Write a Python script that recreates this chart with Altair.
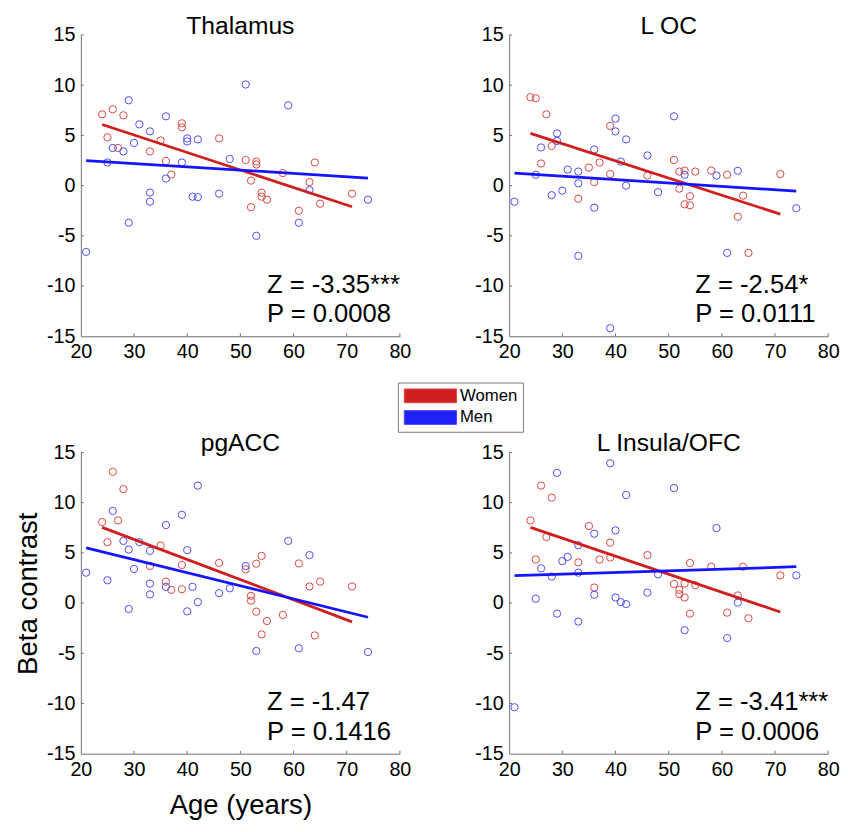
import altair as alt
import pandas as pd

FONT = "Liberation Sans"
SEXES = ["Women", "Men"]
POINT_COLORS = ["#dc4646", "#4c4cff"]
LINE_COLORS = ["#d01e1e", "#1414ff"]
LEGEND_COLORS = ["#cf2020", "#2020f8"]
X_TICKS = [20, 30, 40, 50, 60, 70, 80]
Y_TICKS = [-15, -10, -5, 0, 5, 10, 15]

# ---- Thalamus ----
thal_women = [(24, 7.1), (26, 7.6), (28, 7.0), (25, 4.8), (27, 3.75), (35, 4.5), (33, 3.4),
              (39, 6.2), (39, 5.8), (36, 2.45), (37, 1.1), (46, 4.7), (51, 2.55), (53, 2.4),
              (53, 2.1), (52, 0.5), (58, 1.25), (64, 2.3), (63, 0.35), (54, -0.7), (54, -1.1),
              (55, -1.4), (52, -2.15), (61, -2.5), (65, -1.8), (71, -0.8)]
thal_men = [(21, -6.6), (25, 2.3), (26, 3.75), (28, 3.4), (29, 8.5), (29, -3.7), (30, 4.25),
            (31, 6.1), (33, 5.4), (33, -0.7), (33, -1.6), (36, 6.9), (36, 0.7), (39, 2.3),
            (40, 4.7), (40, 4.4), (42, 4.6), (41, -1.1), (42, -1.15), (46, -0.8), (48, 2.65),
            (51, 10.07), (59, 8.0), (63, -0.45), (61, -3.7), (53, -5.0), (74, -1.4)]
thal_fit_women = [(24, 6.08), (71, -2.1)]
thal_fit_men = [(21, 2.5), (74, 0.75)]

# ---- L OC ----
loc_women = [(24, 8.8), (25, 8.7), (27, 7.1), (28, 3.95), (26, 2.2), (39, 5.95), (35, 1.8),
             (37, 2.3), (36, 0.35), (39, 1.15), (33, -1.3), (46, 1.0), (51, 2.55), (52, 1.4),
             (53, 1.5), (55, 1.4), (58, 1.5), (61, 1.08), (71, 1.15), (52, -0.3), (54, -1.05),
             (53, -1.86), (54, -1.96), (64, -1.0), (63, -3.1), (65, -6.7)]
loc_men = [(21, -1.6), (25, 1.08), (26, 3.8), (29, 5.2), (29, 4.45), (28, -0.95), (30, -0.5),
           (31, 1.6), (33, 1.4), (33, 0.23), (33, -7.0), (36, 3.6), (36, -2.2), (40, 6.67),
           (40, 5.4), (42, 4.6), (41, 2.4), (42, 0.0), (46, 3.0), (48, -0.65), (39, -14.2),
           (51, 6.9), (53, 1.08), (59, 1.0), (63, 1.47), (74, -2.25), (61, -6.7)]
loc_fit_women = [(24, 5.2), (71, -2.84)]
loc_fit_men = [(21, 1.25), (74, -0.55)]

# ---- pgACC ----
pgacc_women = [(26, 13.07), (28, 11.35), (24, 8.07), (27, 8.23), (25, 6.06), (35, 5.73),
               (33, 3.7), (36, 2.14), (37, 1.32), (39, 1.38), (39, 3.79), (46, 4.0), (54, 4.7),
               (53, 3.92), (51, 3.36), (61, 3.95), (63, 1.65), (65, 2.14), (71, 1.65), (52, 0.73),
               (52, 0.24), (53, -0.85), (55, -1.78), (58, -1.18), (54, -3.12), (64, -3.22)]
pgacc_men = [(21, 3.03), (25, 2.27), (26, 9.18), (28, 6.19), (29, 5.33), (31, 6.06), (30, 3.4),
             (29, -0.59), (33, 5.2), (33, 1.94), (33, 0.86), (36, 7.77), (36, 1.62), (39, 8.79),
             (40, 5.27), (42, 11.7), (41, 1.62), (40, -0.82), (42, 0.1), (46, 0.99), (48, 1.48),
             (51, 3.69), (59, 6.19), (63, 4.78), (53, -4.77), (61, -4.5), (74, -4.87)]
pgacc_fit_women = [(24, 7.54), (71, -1.87)]
pgacc_fit_men = [(21, 5.5), (74, -1.41)]

# ---- L Insula/OFC ----
ins_women = [(26, 11.7), (28, 10.5), (24, 8.23), (27, 6.58), (35, 7.67), (39, 6.02), (25, 4.34),
             (33, 4.05), (37, 4.34), (39, 4.54), (36, 1.55), (46, 4.78), (54, 3.99), (58, 3.62),
             (64, 3.62), (71, 2.76), (51, 1.91), (53, 1.94), (55, 1.78), (52, 1.32), (52, 0.89),
             (53, 0.56), (63, 0.76), (54, -1.05), (61, -0.95), (65, -1.51)]
ins_men = [(21, -10.37), (25, 0.43), (26, 3.46), (28, 2.64), (29, 12.97), (29, -1.05), (30, 4.18),
           (31, 4.6), (33, 5.76), (33, 3.03), (33, -1.84), (36, 6.91), (36, 0.83), (39, 13.92),
           (40, 7.24), (42, 10.76), (40, 0.56), (41, 0.1), (42, -0.1), (46, 1.05), (48, 2.86),
           (51, 11.45), (59, 7.47), (74, 2.76), (63, 0.04), (53, -2.7), (61, -3.48)]
ins_fit_women = [(24, 7.54), (71, -0.89)]
ins_fit_men = [(21, 2.73), (74, 3.62)]

titles = ["Thalamus", "L OC", "pgACC", "L Insula/OFC"]
z_labels = ["Z = -3.35***", "Z = -2.54*", "Z = -1.47", "Z = -3.41***"]
p_labels = ["P = 0.0008", "P = 0.0111", "P = 0.1416", "P = 0.0006"]

W, H = 324, 306


def frame(women, men):
    rows = [{"age": a, "beta": b, "sex": "Women"} for a, b in women]
    rows += [{"age": a, "beta": b, "sex": "Men"} for a, b in men]
    return pd.DataFrame(rows)


legend = alt.Legend(
    title=None, orient="none", legendX=322, legendY=353,
    symbolType="M-1,-1L6.57,-1L6.57,1L-1,1Z", symbolSize=196,
    symbolOpacity=1, symbolStrokeColor="#333333", symbolStrokeWidth=1,
    labelFont=FONT, labelFontSize=17, labelColor="black", labelOffset=41,
    strokeColor="#7a7a7a", fillColor="white", padding=5, rowPadding=3,
)

XSCALE = alt.Scale(domain=[20, 80], nice=False)
YSCALE = alt.Scale(domain=[-15, 15], nice=False)
xtick_df = pd.DataFrame({"age": X_TICKS[1:]})
ytick_df = pd.DataFrame({"beta": Y_TICKS[1:]})


def panel(i, women, men, fit_w, fit_m, x_title, y_title):
    pts = frame(women, men)
    fit = frame(fit_w, fit_m)
    x = alt.X("age:Q", scale=XSCALE,
              axis=alt.Axis(values=X_TICKS, title=x_title, labelExpr="'' + datum.value"))
    if y_title:
        y_axis = alt.Axis(values=Y_TICKS, title=y_title, labelExpr="'' + datum.value", titleY=143)
    else:
        y_axis = alt.Axis(values=Y_TICKS, title=None, labelExpr="'' + datum.value")
    y = alt.Y("beta:Q", scale=YSCALE, axis=y_axis)
    key = alt.Chart(pts).mark_square(filled=True, size=0).encode(
        x=x, y=y,
        fill=alt.Fill("sex:N", scale=alt.Scale(domain=SEXES, range=LEGEND_COLORS), legend=legend),
    )
    xticks = alt.Chart(xtick_df).mark_rule(color="#707070", strokeWidth=1).encode(
        x=alt.X("age:Q", scale=XSCALE), y=alt.value(H), y2=alt.value(H - 3))
    yticks = alt.Chart(ytick_df).mark_rule(color="#707070", strokeWidth=1).encode(
        y=alt.Y("beta:Q", scale=YSCALE), x=alt.value(0), x2=alt.value(3))
    points = alt.Chart(pts).mark_point(shape="circle", filled=False, size=55,
                                       strokeWidth=1, opacity=1).encode(
        x=x, y=y,
        stroke=alt.Stroke("sex:N", scale=alt.Scale(domain=SEXES, range=POINT_COLORS), legend=None),
    )
    lines = alt.Chart(fit).mark_line(strokeWidth=2.8).encode(
        x=x, y=y,
        color=alt.Color("sex:N", scale=alt.Scale(domain=SEXES, range=LINE_COLORS), legend=None),
    )
    ztext = alt.Chart(pd.DataFrame({"t": [z_labels[i]]})).mark_text(
        align="left", baseline="alphabetic", fontSize=26, font=FONT, color="black"
    ).encode(x=alt.value(189), y=alt.value(262), text="t:N")
    ptext = alt.Chart(pd.DataFrame({"t": [p_labels[i]]})).mark_text(
        align="left", baseline="alphabetic", fontSize=26, font=FONT, color="black"
    ).encode(x=alt.value(189), y=alt.value(292), text="t:N")
    return alt.layer(key, xticks, yticks, points, lines, ztext, ptext).properties(
        width=W, height=H,
        title=alt.TitleParams(titles[i], fontSize=25, font=FONT, fontWeight="normal",
                              color="black", offset=-14, anchor="middle", frame="group"),
    )


p1 = panel(0, thal_women, thal_men, thal_fit_women, thal_fit_men, None, None)
p2 = panel(1, loc_women, loc_men, loc_fit_women, loc_fit_men, None, None)
p3 = panel(2, pgacc_women, pgacc_men, pgacc_fit_women, pgacc_fit_men, "Age (years)", "Beta contrast")
p4 = panel(3, ins_women, ins_men, ins_fit_women, ins_fit_men, None, None)

chart = alt.concat(p1, p2, p3, p4, columns=2, spacing={"column": 64, "row": 71}).properties(
    padding={"left": 7, "top": 0, "right": 0, "bottom": 0}
).configure_view(stroke=None).configure_axis(
    grid=False, domainColor="#707070", domainWidth=1, ticks=False,
    labelFont=FONT, labelFontSize=20, labelColor="black", labelPadding=6,
    labelFlush=False, labelOverlap=False,
    titleFont=FONT, titleFontSize=28, titleFontWeight="normal", titleColor="black",
).configure_axisX(titlePadding=13).configure_axisY(titlePadding=4)

chart.save("out.html", embed_options={"renderer": "svg", "actions": False})
